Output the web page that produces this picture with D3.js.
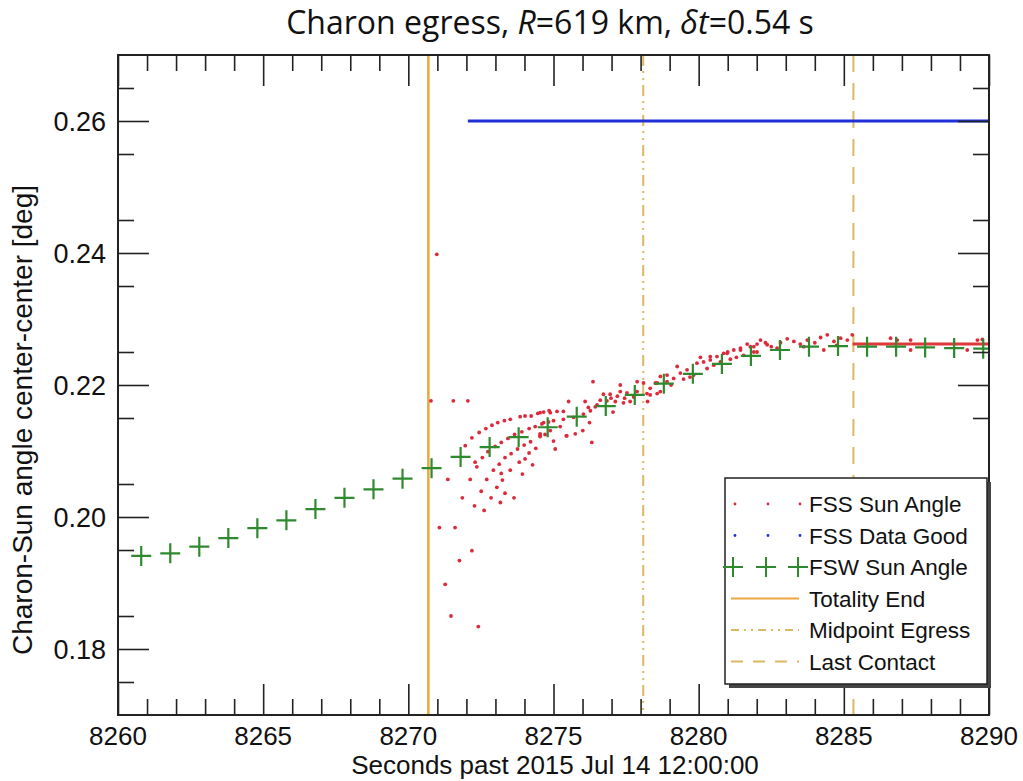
<!DOCTYPE html>
<html>
<head>
<meta charset="utf-8">
<script src="https://cdn.jsdelivr.net/npm/d3@7/dist/d3.min.js"></script>
<style>
  body { margin: 0; background: #fff; }
  text { font-family: "Liberation Sans", Arial, sans-serif; fill: #111; }
</style>
</head>
<body>
<svg id="chart" width="1023" height="781"></svg>
<script>
// ---- data ----
var xTicks = [8260, 8265, 8270, 8275, 8280, 8285, 8290];
var yTicks = [0.18, 0.20, 0.22, 0.24, 0.26];

// FSW sun angle, green +
var fswTime = [8260.8, 8261.8, 8262.8, 8263.8, 8264.8, 8265.8, 8266.8, 8267.8, 8268.8, 8269.8,
               8270.8, 8271.8, 8272.8, 8273.8, 8274.8, 8275.8, 8276.8, 8277.8, 8278.8, 8279.8,
               8280.8, 8281.8, 8282.8, 8283.8, 8284.8, 8285.8, 8286.8, 8287.8, 8288.8, 8289.8];
var fswAngle = [0.1941, 0.1945, 0.1955, 0.1968, 0.1983, 0.1995, 0.2012, 0.2029, 0.2042, 0.2058,
                0.2074, 0.2091, 0.2106, 0.2121, 0.2136, 0.2152, 0.2168, 0.2185, 0.2202, 0.2217,
                0.2232, 0.2244, 0.2253, 0.2258, 0.2259, 0.2258, 0.2258, 0.2257, 0.2256, 0.2255];

// FSS sun angle, red dots [seconds, deg]
var fssPoints = [
  [8270.98, 0.2398],
  [8270.78, 0.2176], [8271.55, 0.2176], [8272.05, 0.2176],
  // upper arc
  [8271.96, 0.2108], [8272.19, 0.2120], [8272.44, 0.2128], [8272.67, 0.2134], [8272.88, 0.2139],
  [8273.08, 0.2143], [8273.31, 0.2146], [8273.51, 0.2148], [8273.85, 0.2152], [8274.02, 0.2153],
  [8274.23, 0.2153], [8274.46, 0.2157], [8274.66, 0.2159], [8274.85, 0.2161],
  // second arc
  [8272.30, 0.2083], [8272.55, 0.2090], [8272.74, 0.2099], [8272.99, 0.2107], [8273.20, 0.2113],
  [8273.43, 0.2119], [8273.66, 0.2125], [8273.91, 0.2129], [8274.16, 0.2134], [8274.37, 0.2137],
  [8274.60, 0.2141], [8274.83, 0.2144], [8274.54, 0.2124],
  // third arc
  [8272.36, 0.2076], [8272.93, 0.2071], [8273.13, 0.2080], [8273.33, 0.2090], [8273.54, 0.2096],
  [8273.76, 0.2103], [8273.99, 0.2109], [8274.21, 0.2114], [8274.54, 0.2122], [8274.71, 0.2125],
  // lower scatter
  [8271.36, 0.2057], [8272.13, 0.2057], [8272.70, 0.2057], [8273.24, 0.2056],
  [8272.51, 0.2039], [8273.05, 0.2045], [8273.33, 0.2036], [8273.20, 0.2066], [8273.51, 0.2071],
  [8273.82, 0.2083], [8273.93, 0.2065], [8274.28, 0.2079], [8274.16, 0.2097], [8274.39, 0.2104],
  [8274.02, 0.2088], [8275.06, 0.2103],
  [8271.86, 0.2029], [8272.85, 0.2029], [8273.64, 0.2029], [8273.17, 0.2022], [8272.28, 0.2017],
  [8272.61, 0.2010], [8271.07, 0.1984], [8271.61, 0.1984], [8272.19, 0.1949], [8271.76, 0.1934],
  [8271.27, 0.1898], [8271.47, 0.1850], [8272.41, 0.1834],
  // 8275 - 8278
  [8276.36, 0.2205], [8277.30, 0.2200], [8275.52, 0.2175], [8276.09, 0.2175],
  [8276.72, 0.2186], [8276.95, 0.2186], [8276.61, 0.2177], [8276.84, 0.2176], [8277.13, 0.2175],
  [8277.41, 0.2173], [8277.64, 0.2175], [8276.44, 0.2167], [8277.05, 0.2159],
  [8274.54, 0.2158], [8274.89, 0.2158], [8275.12, 0.2160], [8275.34, 0.2160],
  [8275.69, 0.2151], [8276.03, 0.2156], [8276.27, 0.2161],
  [8274.66, 0.2143], [8275.00, 0.2146], [8275.34, 0.2148],
  [8274.54, 0.2126], [8274.89, 0.2131], [8275.23, 0.2137], [8275.46, 0.2123], [8275.75, 0.2126],
  [8276.01, 0.2131], [8276.24, 0.2143], [8275.00, 0.2115], [8276.32, 0.2113], [8275.44, 0.2123],
  [8276.50, 0.2170], [8276.98, 0.2180], [8277.20, 0.2183], [8277.45, 0.2180], [8276.20, 0.2166],
  // around midpoint egress
  [8277.88, 0.2205], [8278.10, 0.2203], [8278.33, 0.2195], [8277.88, 0.2190], [8278.22, 0.2187],
  [8277.76, 0.2182], [8278.24, 0.2175], [8277.30, 0.2190], [8277.53, 0.2188], [8278.57, 0.2187],
  [8278.51, 0.2203], [8278.68, 0.2213], [8278.91, 0.2215],
  // dense band 8278 - 8282
  [8278.57, 0.2203], [8278.91, 0.2205], [8279.14, 0.2210], [8279.37, 0.2218], [8279.60, 0.2223],
  [8279.94, 0.2233], [8280.17, 0.2235], [8280.40, 0.2238], [8280.63, 0.2243], [8280.86, 0.2248],
  [8281.21, 0.2253], [8281.44, 0.2256], [8281.78, 0.2258], [8282.01, 0.2262], [8282.30, 0.2264],
  [8278.33, 0.2185], [8278.68, 0.2190], [8279.48, 0.2209], [8279.83, 0.2215], [8280.29, 0.2225],
  [8280.75, 0.2235], [8281.09, 0.2239], [8281.55, 0.2245], [8281.90, 0.2250],
  [8279.26, 0.2228], [8280.06, 0.2242], [8281.00, 0.2250], [8281.67, 0.2262], [8282.13, 0.2268],
  [8279.05, 0.2200], [8279.70, 0.2212], [8280.52, 0.2230], [8281.30, 0.2242], [8282.50, 0.2258],
  // 8280 - 8285
  [8280.40, 0.2243], [8280.98, 0.2248], [8281.44, 0.2253], [8281.90, 0.2258], [8282.36, 0.2261],
  [8282.82, 0.2264], [8283.28, 0.2266], [8283.74, 0.2268], [8284.20, 0.2272], [8284.43, 0.2276],
  [8284.66, 0.2266], [8284.89, 0.2271], [8285.12, 0.2268], [8285.29, 0.2276],
  [8282.01, 0.2250], [8282.70, 0.2256], [8283.62, 0.2258], [8284.31, 0.2253],
  [8283.05, 0.2270], [8283.50, 0.2262], [8284.00, 0.2264], [8284.75, 0.2260],
  // after last contact
  [8286.61, 0.2271], [8286.84, 0.2268], [8287.30, 0.2268], [8287.30, 0.2253],
  [8289.25, 0.2253], [8289.60, 0.2268], [8289.77, 0.2269]
];
// steady FSS reading after egress (dense dots form a line)
var fssSteadyTime = [8285.3, 8290];
var fssSteadyAngle = [0.2262, 0.2262];

// FSS data-good flag
var goodTime = [8272.05, 8290];
var goodLevel = 0.26;

// event markers
var eventNames = ["Totality End", "Midpoint Egress", "Last Contact"];
var eventTimes = [8270.69, 8278.09, 8285.33];

// ---- layout ----
var svg = d3.select("#chart");
var pLeft = 118, pRight = 989, pTop = 55, pBottom = 715;

var x = d3.scaleLinear().domain([8260, 8290]).range([pLeft, pRight]);
var y = d3.scaleLinear().domain([0.17, 0.27]).range([pBottom, pTop]);

var orange = "#eba640";
var tan = "#dcb860";
var eventColors = [orange, tan, tan];
var eventDash = [null, "11,5,2,5,2,5", "17,11"];

svg.append("clipPath").attr("id", "clip")
  .append("rect").attr("x", pLeft).attr("y", pTop)
  .attr("width", pRight - pLeft).attr("height", pBottom - pTop);

var plot = svg.append("g").attr("clip-path", "url(#clip)");

// event lines
eventTimes.forEach(function (t, i) {
  plot.append("line")
    .attr("x1", x(t)).attr("x2", x(t))
    .attr("y1", pTop).attr("y2", pBottom)
    .attr("stroke", eventColors[i])
    .attr("stroke-width", i == 0 ? 2.5 : 2)
    .attr("stroke-dasharray", eventDash[i]);
});

// data good line
plot.append("line")
  .attr("x1", x(goodTime[0])).attr("x2", x(goodTime[1]))
  .attr("y1", y(goodLevel)).attr("y2", y(goodLevel))
  .attr("stroke", "#1f2fd6").attr("stroke-width", 3);

// steady red line
plot.append("line")
  .attr("x1", x(fssSteadyTime[0])).attr("x2", x(fssSteadyTime[1]))
  .attr("y1", y(fssSteadyAngle[0])).attr("y2", y(fssSteadyAngle[1]))
  .attr("stroke", "#e03838").attr("stroke-width", 3);

// red dots
plot.selectAll(".fss")
  .data(fssPoints)
  .enter().append("circle")
  .attr("class", "fss")
  .attr("cx", d => x(d[0]))
  .attr("cy", d => y(d[1]))
  .attr("r", 1.9)
  .attr("fill", "#dd2a3a");

// green plus markers
var fsw = fswTime.map((t, i) => [t, fswAngle[i]]);
var plus = "M-10,0H10M0,-10V10";
plot.selectAll(".fsw")
  .data(fsw)
  .enter().append("path")
  .attr("class", "fsw")
  .attr("transform", d => "translate(" + x(d[0]) + "," + y(d[1]) + ")")
  .attr("d", plus)
  .attr("stroke", "#2f8a2f")
  .attr("stroke-width", 2.2)
  .attr("fill", "none");

// ---- axes (ticks point inward on all four sides) ----
var major = 31, minor = 16;
var xMinor = d3.range(8261, 8290, 1).filter(v => v % 5 != 0);
var yMinor = d3.range(0.175, 0.27, 0.005).filter(v => Math.abs(v * 100 - Math.round(v * 100)) > 0.1);

function drawTicks(axisFn, scale, values, size, pos) {
  var ax = axisFn(scale).tickValues(values).tickSizeInner(-size).tickSizeOuter(0).tickFormat("");
  var g = svg.append("g").attr("transform", pos).call(ax);
  g.select(".domain").remove();
  g.selectAll(".tick line").attr("stroke", "#222").attr("stroke-width", 1.6);
  return g;
}
drawTicks(d3.axisBottom, x, xMinor, minor, "translate(0," + pBottom + ")");
drawTicks(d3.axisTop, x, xMinor, minor, "translate(0," + pTop + ")");
drawTicks(d3.axisBottom, x, xTicks, major, "translate(0," + pBottom + ")");
drawTicks(d3.axisTop, x, xTicks, major, "translate(0," + pTop + ")");
drawTicks(d3.axisLeft, y, yMinor, minor, "translate(" + pLeft + ",0)");
drawTicks(d3.axisRight, y, yMinor, minor, "translate(" + pRight + ",0)");
drawTicks(d3.axisLeft, y, yTicks, major, "translate(" + pLeft + ",0)");
drawTicks(d3.axisRight, y, yTicks, major, "translate(" + pRight + ",0)");

// tick labels
svg.append("g").selectAll("text")
  .data(xTicks).enter().append("text")
  .attr("x", d => x(d)).attr("y", 745)
  .attr("text-anchor", "middle")
  .style("font-size", "26px")
  .text(d => d);
svg.append("g").selectAll("text")
  .data(yTicks).enter().append("text")
  .attr("x", 106).attr("y", d => y(d) + 9.5)
  .attr("text-anchor", "end")
  .style("font-size", "27px")
  .text(d => d3.format(".2f")(d));

// frame
svg.append("rect")
  .attr("x", pLeft).attr("y", pTop)
  .attr("width", pRight - pLeft).attr("height", pBottom - pTop)
  .attr("fill", "none").attr("stroke", "#222").attr("stroke-width", 2);

// axis titles
svg.append("text")
  .attr("x", 555).attr("y", 774)
  .attr("text-anchor", "middle")
  .style("font-size", "26px")
  .text("Seconds past 2015 Jul 14 12:00:00");
svg.append("text")
  .attr("transform", "translate(32,420) rotate(-90)")
  .attr("text-anchor", "middle")
  .style("font-size", "28px")
  .text("Charon-Sun angle center-center [deg]");

// title
var title = svg.append("text")
  .attr("x", 550).attr("y", 34)
  .attr("text-anchor", "middle")
  .style("font-family", "'Open Sans', sans-serif")
  .style("font-size", "32px");
title.append("tspan").text("Charon egress, ");
title.append("tspan").style("font-style", "italic").text("R");
title.append("tspan").text("=619 km, ");
title.append("tspan").style("font-style", "italic").text("\u03b4t");
title.append("tspan").text("=0.54 s");

// ---- legend ----
var lg = svg.append("g").attr("transform", "translate(725,478)");
var lgW = 262, lgH = 206;
lg.append("rect").attr("x", 4).attr("y", 4).attr("width", lgW).attr("height", lgH)
  .attr("fill", "#444");
lg.append("rect").attr("width", lgW).attr("height", lgH)
  .attr("fill", "#fff").attr("stroke", "#222").attr("stroke-width", 1.5);

var legendItems = [
  { name: "FSS Sun Angle", kind: "dot", color: "#dd2a3a" },
  { name: "FSS Data Good", kind: "dot", color: "#1f2fd6" },
  { name: "FSW Sun Angle", kind: "plus", color: "#2f8a2f" },
  { name: eventNames[0], kind: "line", color: eventColors[0], dash: eventDash[0] },
  { name: eventNames[1], kind: "line", color: eventColors[1], dash: "8,5,2,5,2,5" },
  { name: eventNames[2], kind: "line", color: eventColors[2], dash: "12,10" }
];
var symX = [10, 43, 75];
legendItems.forEach(function (it, i) {
  var cy = 26 + i * 31.5;
  var row = lg.append("g").attr("transform", "translate(0," + cy + ")");
  if (it.kind == "dot") {
    symX.forEach(sx => row.append("circle").attr("cx", sx).attr("cy", 0).attr("r", 1.4).attr("fill", it.color));
  } else if (it.kind == "plus") {
    symX.forEach(sx => row.append("path").attr("transform", "translate(" + (sx - 2) + ",0)")
      .attr("d", plus).attr("stroke", it.color).attr("stroke-width", 2).attr("fill", "none"));
  } else {
    row.append("line").attr("x1", 6).attr("x2", 74).attr("y1", 0).attr("y2", 0)
      .attr("stroke", it.color).attr("stroke-width", 2.2).attr("stroke-dasharray", it.dash);
  }
  row.append("text").attr("x", 84).attr("y", 8)
    .style("font-size", "22.5px")
    .text(it.name);
});
</script>
</body>
</html>
